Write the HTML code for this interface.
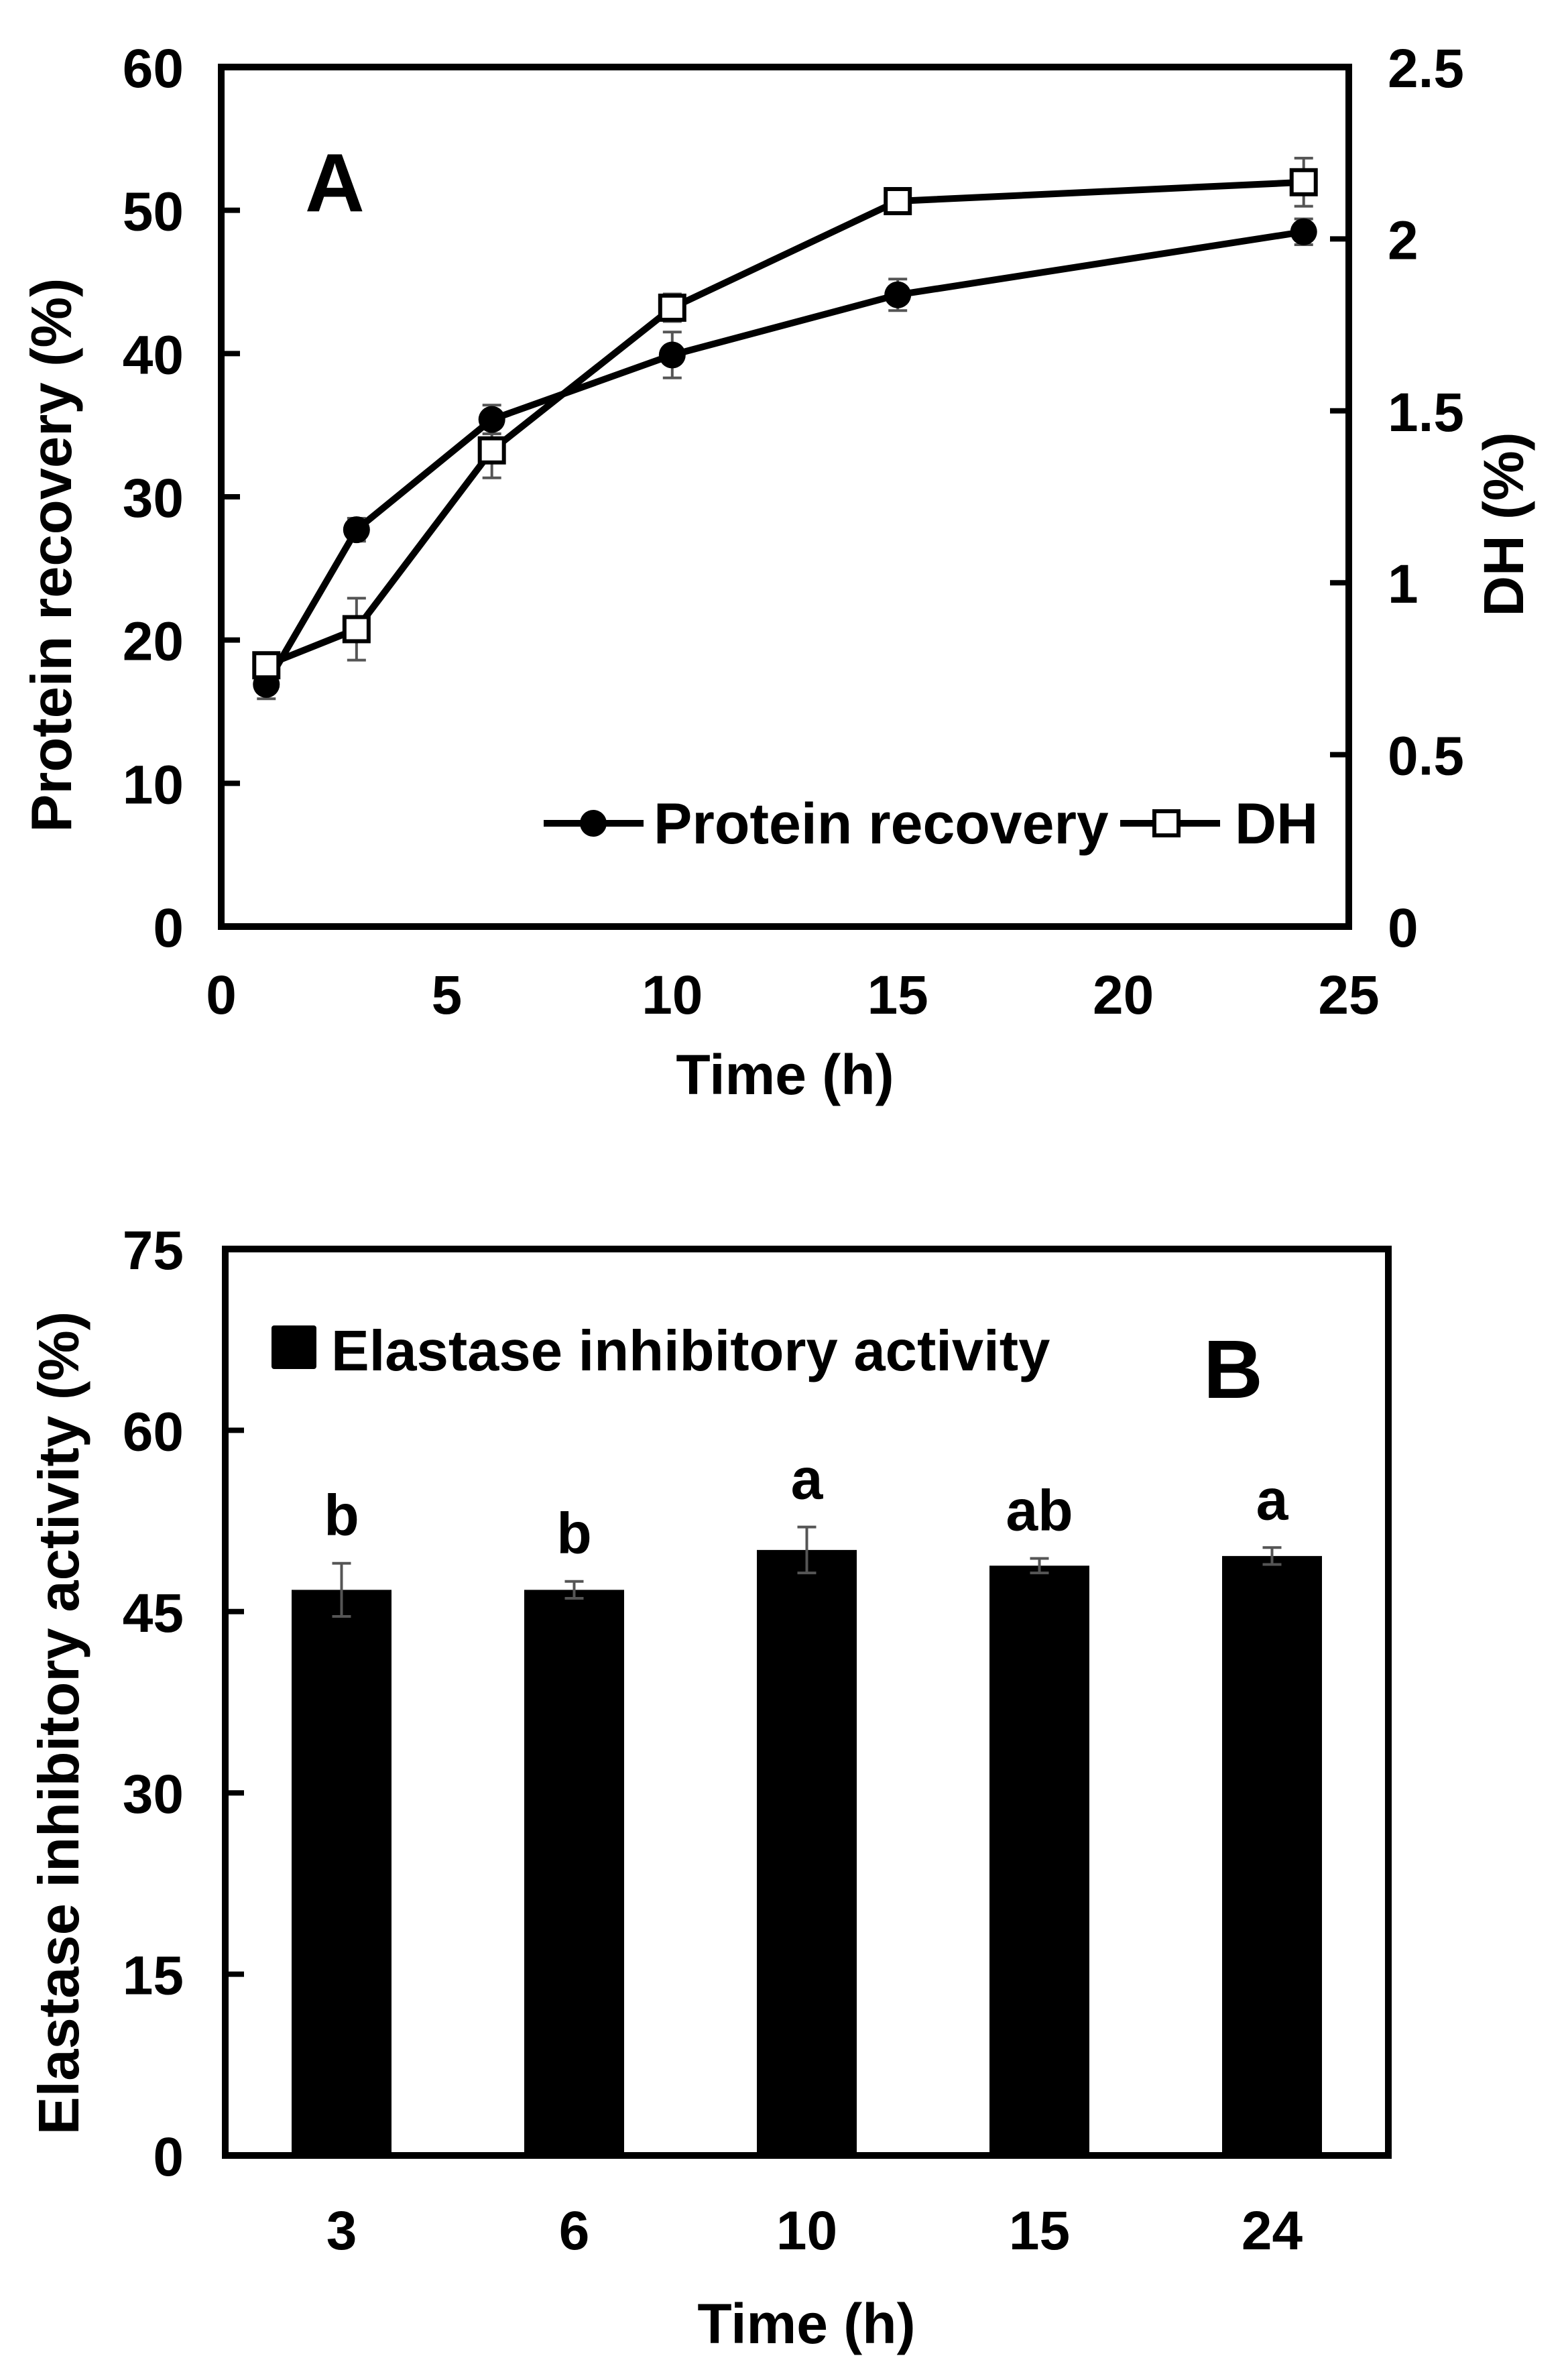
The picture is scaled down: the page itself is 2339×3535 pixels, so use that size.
<!DOCTYPE html>
<html><head><meta charset="utf-8"><style>
html,body{margin:0;padding:0;background:#fff}
svg{display:block}
text{font-family:"Liberation Sans",Arial,sans-serif;font-weight:bold;fill:#000}
</style></head><body>
<svg id="fig" width="2339" height="3535" viewBox="0 0 2339 3535" xmlns="http://www.w3.org/2000/svg">
<g id="pa"></g>
<g id="pb"></g>
</svg>
<script>
// Panel A data
const timesA = [1, 3, 6, 10, 15, 24];
const proteinRecovery = [16.9, 27.7, 35.4, 39.9, 44.1, 48.5];
const proteinErr = [1.0, 0.8, 1.0, 1.6, 1.1, 0.9];
const dhValues = [0.76, 0.865, 1.385, 1.80, 2.11, 2.165];
const dhErr = [0.02, 0.09, 0.08, 0.04, 0.03, 0.07];
const leftTicksA = [0, 10, 20, 30, 40, 50, 60];
const rightTicksA = ["0", "0.5", "1", "1.5", "2", "2.5"];
const xTicksA = [0, 5, 10, 15, 20, 25];
// Panel B data
const categoriesB = ["3", "6", "10", "15", "24"];
const elastase = [46.8, 46.8, 50.1, 48.8, 49.6];
const elastaseErr = [2.2, 0.7, 1.9, 0.6, 0.7];
const lettersB = ["b", "b", "a", "ab", "a"];
const yTicksB = [0, 15, 30, 45, 60, 75];

const NS = "http://www.w3.org/2000/svg";
function mk(parent, tag, attrs, txt){
  const e = document.createElementNS(NS, tag);
  for (const k in attrs) e.setAttribute(k, attrs[k]);
  if (txt !== undefined) e.textContent = txt;
  parent.appendChild(e);
  return e;
}
const FS = 82;
const LFS = 86;

// ---------- Panel A ----------
const pa = document.getElementById('pa');
const A = {l:330, r:2012, t:100, b:1382};
const xA = v => A.l + (v/25)*(A.r-A.l);
const yL = v => A.b - (v/60)*(A.b-A.t);
const yR = v => A.b - (v/2.5)*(A.b-A.t);

let e;
e = mk(pa,'rect',{x:A.l,y:A.t,width:A.r-A.l,height:A.b-A.t,fill:'none',stroke:'#000','stroke-width':10});



leftTicksA.forEach(v=>{
  const y = yL(v);
  e = mk(pa,'line',{x1:A.l,x2:A.l+28,y1:y,y2:y,stroke:'#000','stroke-width':8});
  
  
  e = mk(pa,'text',{x:274,y:y+30,'font-size':FS,'text-anchor':'end'},String(v));
  
  
});
rightTicksA.forEach(s=>{
  const y = yR(parseFloat(s));
  e = mk(pa,'line',{x1:A.r-28,x2:A.r,y1:y,y2:y,stroke:'#000','stroke-width':8});
  
  
  e = mk(pa,'text',{x:2070,y:y+30,'font-size':FS},s);
  
  
});
xTicksA.forEach(v=>{
  e = mk(pa,'text',{x:xA(v),y:1512,'font-size':FS,'text-anchor':'middle'},String(v));
  
  
});
e = mk(pa,'text',{x:1171,y:1632,'font-size':84,'text-anchor':'middle'},'Time (h)');


e = mk(pa,'text',{x:0,y:0,'font-size':85,'text-anchor':'middle',transform:'translate(106,828) rotate(-90)'},'Protein recovery (%)');


e = mk(pa,'text',{x:0,y:0,'font-size':84,'text-anchor':'middle',transform:'translate(2272,782) rotate(-90)'},'DH (%)');


e = mk(pa,'text',{x:455,y:315,'font-size':123},'A');



function errbar(parent, x, y1, y2, name){
  const g = mk(parent,'g',{stroke:'#555','stroke-width':4});
  
  
  mk(g,'line',{x1:x,x2:x,y1:y1,y2:y2});
  mk(g,'line',{x1:x-14,x2:x+14,y1:y1,y2:y1});
  mk(g,'line',{x1:x-14,x2:x+14,y1:y2,y2:y2});
}
timesA.forEach((t,i)=>{
  errbar(pa, xA(t), yL(proteinRecovery[i]+proteinErr[i]), yL(proteinRecovery[i]-proteinErr[i]), 'protein-error-bar');
  errbar(pa, xA(t), yR(dhValues[i]+dhErr[i]), yR(dhValues[i]-dhErr[i]), 'dh-error-bar');
});
e = mk(pa,'polyline',{points:timesA.map((t,i)=>xA(t)+','+yL(proteinRecovery[i])).join(' '),fill:'none',stroke:'#000','stroke-width':10,'stroke-linejoin':'round'});


e = mk(pa,'polyline',{points:timesA.map((t,i)=>xA(t)+','+yR(dhValues[i])).join(' '),fill:'none',stroke:'#000','stroke-width':10,'stroke-linejoin':'round'});


timesA.forEach((t,i)=>{
  e = mk(pa,'circle',{cx:xA(t),cy:yL(proteinRecovery[i]),r:20,fill:'#000'});
  
  
});
timesA.forEach((t,i)=>{
  e = mk(pa,'rect',{x:xA(t)-18,y:yR(dhValues[i])-18,width:36,height:36,fill:'#fff',stroke:'#000','stroke-width':6});
  
  
});
const lg = mk(pa,'g',{});


mk(lg,'line',{x1:811,x2:960,y1:1228,y2:1228,stroke:'#000','stroke-width':10});
mk(lg,'circle',{cx:885,cy:1228,r:20,fill:'#000'});
e = mk(lg,'text',{x:975,y:1258,'font-size':LFS},'Protein recovery');


mk(lg,'line',{x1:1671,x2:1820,y1:1228,y2:1228,stroke:'#000','stroke-width':10});
mk(lg,'rect',{x:1722,y:1210,width:36,height:36,fill:'#fff',stroke:'#000','stroke-width':6});
e = mk(lg,'text',{x:1842,y:1258,'font-size':LFS},'DH');



// ---------- Panel B ----------
const pb = document.getElementById('pb');
const B = {l:336, r:2071, t:1863, b:3215};
const bandW = (B.r-B.l)/categoriesB.length;
const xB = i => B.l + (i+0.5)*bandW;
const yB = v => B.b - (v/75)*(B.b-B.t);
const barW = 149;

yTicksB.forEach(v=>{
  const y = yB(v);
  e = mk(pb,'line',{x1:B.l,x2:B.l+28,y1:y,y2:y,stroke:'#000','stroke-width':8});
  
  
  e = mk(pb,'text',{x:274,y:y+30,'font-size':FS,'text-anchor':'end'},String(v));
  
  
});
categoriesB.forEach((c,i)=>{
  e = mk(pb,'rect',{x:xB(i)-barW/2,y:yB(elastase[i]),width:barW,height:B.b-yB(elastase[i]),fill:'#000'});
  
  
  errbar(pb, xB(i), yB(elastase[i]+elastaseErr[i]), yB(elastase[i]-elastaseErr[i]), 'elastase-error-bar');
  e = mk(pb,'text',{x:xB(i),y:yB(elastase[i]+elastaseErr[i])-42,'font-size':86,'text-anchor':'middle'},lettersB[i]);
  
  
  e = mk(pb,'text',{x:xB(i),y:3355,'font-size':FS,'text-anchor':'middle'},c);
  
  
});
e = mk(pb,'rect',{x:B.l,y:B.t,width:B.r-B.l,height:B.b-B.t,fill:'none',stroke:'#000','stroke-width':10});


e = mk(pb,'text',{x:1203,y:3495,'font-size':84,'text-anchor':'middle'},'Time (h)');


e = mk(pb,'text',{x:0,y:0,'font-size':85,'text-anchor':'middle',transform:'translate(117,2570) rotate(-90)'},'Elastase inhibitory activity (%)');


e = mk(pb,'text',{x:1795,y:2085,'font-size':123},'B');


const lgb = mk(pb,'g',{});


mk(lgb,'rect',{x:405,y:1977,width:67,height:65,fill:'#000',rx:4});
e = mk(lgb,'text',{x:494,y:2044,'font-size':85},'Elastase inhibitory activity');


</script>
</body></html>
